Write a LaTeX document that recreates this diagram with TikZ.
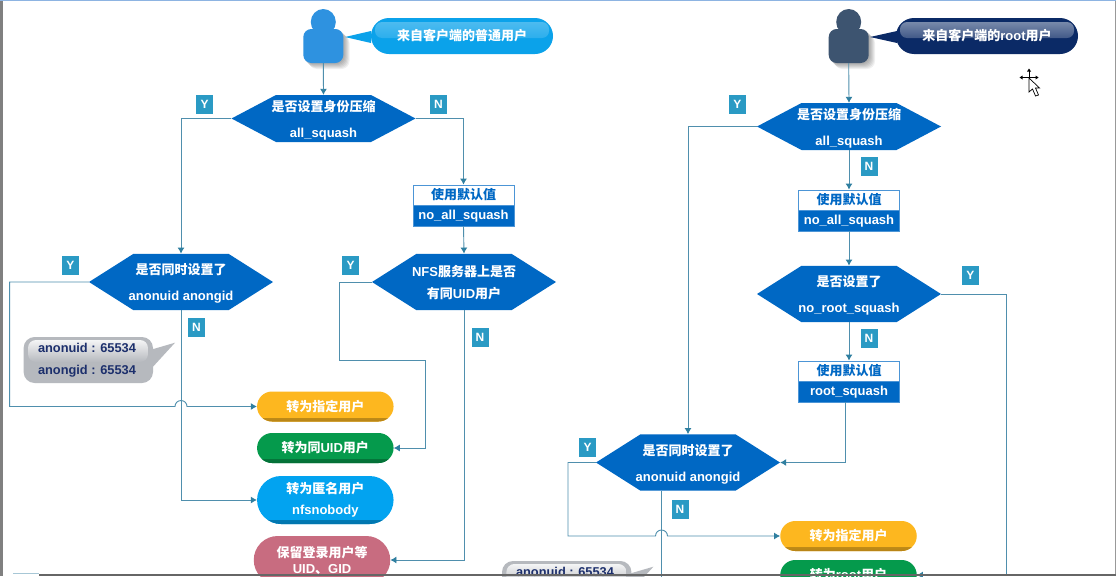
\documentclass[tikz,border=0pt]{standalone}
\usepackage{fontspec}
\setmainfont{Liberation Sans}
\newfontfamily\cjk{Noto Sans CJK SC}
\usetikzlibrary{arrows.meta,positioning,shapes.misc}
\definecolor{flowline}{HTML}{4F8FAD}
\definecolor{flowtip}{HTML}{2F7FA0}
\definecolor{hexblue}{HTML}{0068C4}
\definecolor{tagteal}{HTML}{2A9AC4}
\definecolor{usrlight}{HTML}{2E92E0}
\definecolor{usrdark}{HTML}{3D5470}
\definecolor{tiplight}{HTML}{0BA2EA}
\definecolor{tipdark}{HTML}{0B2A66}
\definecolor{tipgrey}{HTML}{B6B9BE}
\definecolor{textnavy}{HTML}{1C2F6C}
\definecolor{pillorange}{HTML}{FDB71F}
\definecolor{pillgreen}{HTML}{059A4C}
\definecolor{pillblue}{HTML}{02A3F0}
\definecolor{pillpink}{HTML}{C86C80}
\definecolor{frametop}{HTML}{8DB4E2}
\newcommand{\zh}[1]{{\cjk #1}}
\tikzset{
  flow/.style={flowline,line width=0.9pt,-{Latex[length=6pt,width=7pt,color=flowtip]}},
  plainflow/.style={flowline,line width=0.9pt},
  hexsmall/.style={text=white,align=center,inner sep=0pt,minimum width=184pt,minimum height=47pt,
    text depth=-1pt,font=\bfseries\fontsize{13}{26}\selectfont},
  hexlarge/.style={hexsmall,minimum height=56.5pt},
  tagbox/.style={fill=tagteal,text=white,inner sep=0pt,minimum width=17pt,minimum height=19pt,
    font=\bfseries\fontsize{12}{12}\selectfont},
  deftop/.style={draw=hexblue!70,fill=white,text=hexblue,inner sep=0pt,minimum width=101pt,minimum height=20.5pt,
    font=\bfseries\fontsize{13}{13}\selectfont},
  defbot/.style={draw=hexblue!70,fill=hexblue,text=white,inner sep=0pt,minimum width=101pt,minimum height=20.5pt,
    font=\bfseries\fontsize{13}{13}\selectfont},
  pillbox/.style={rounded rectangle,fill=#1,text=white,align=center,inner sep=0pt,minimum width=136.5pt,
    font=\bfseries\fontsize{13}{21}\selectfont,
    path picture={\shade[top color=#1,bottom color=#1!72!black]
      (path picture bounding box.south west) rectangle ([yshift=3.5pt]path picture bounding box.south east);}},
  usrbody/.style={rounded corners=8pt,inner sep=0pt,minimum width=40pt,minimum height=34pt},
  tipbox/.style={rounded rectangle,text=white,inner sep=0pt,minimum width=182pt,minimum height=36pt,
    font=\bfseries\fontsize{13}{13}\selectfont},
  tipgloss/.style 2 args={path picture={\shade[top color=#1,bottom color=#2,rounded corners=7pt]
      ([shift={(4pt,-4pt)}]path picture bounding box.north west) rectangle
      ([shift={(-4pt,-20pt)}]path picture bounding box.north east);}},
  greytext/.style={text=textnavy,inner sep=0pt,font=\bfseries\fontsize{12.8}{13}\selectfont}
}
\begin{document}
\begin{tikzpicture}[x=1pt,y=-1pt]
  \useasboundingbox (0,0) rectangle (1116,576);
  \clip (0,0) rectangle (1116,576);
  \fill[white] (0,0) rectangle (1116,576);

  % The two users and their speech tips
  \foreach \o in {1,...,6} {
    \fill[black,opacity=0.06,rounded corners=8pt] (303+\o,29+\o) rectangle (343.5+\o,63+\o);
    \fill[black,opacity=0.06,rounded corners=8pt] (828.5+\o,29+\o) rectangle (869+\o,63+\o);
  }
  \fill[usrlight] (323.3,22) ellipse (12.5 and 13);
  \node[usrbody,fill=usrlight] (usra) at (323.3,46) {};
  \fill[usrdark] (848.7,22) ellipse (12.5 and 13);
  \node[usrbody,fill=usrdark] (usrb) at (848.7,46) {};

  \fill[tiplight] (371,31) -- (345,37) -- (371,43) -- cycle;
  \node[tipbox,fill=tiplight,tipgloss={white!30!tiplight}{tiplight}] (tipa) at (462,36) {\zh{来自客户端的普通用户}};
  \fill[tipdark] (897,31) -- (870,37) -- (897,43) -- cycle;
  \node[tipbox,fill=tipdark,tipgloss={white!50!tipdark}{tipdark}] (tipb) at (987,36) {\zh{来自客户端的}root\zh{用户}};

  % Hexagons behind the question texts
  \foreach \cx/\cy/\hh in {323.5/118.5/23.5, 181/282/28.2, 464/282/28.2,
                           849/126.5/23.5, 849/294/28.2, 688/462.5/28.2} {
    \fill[hexblue] (\cx-92,\cy) -- (\cx-47.5,\cy-\hh) -- (\cx+47.5,\cy-\hh) -- (\cx+92,\cy)
      -- (\cx+47.5,\cy+\hh) -- (\cx-47.5,\cy+\hh) -- cycle;
  }

  % Left flow
  \node[hexsmall] (hexa) at (323.5,118.5) {\zh{是否设置身份压缩}\\all\_squash};
  \node[hexlarge] (hexb) at (181,282) {\zh{是否同时设置了}\\anonuid anongid};
  \node[hexlarge,font=\bfseries\fontsize{13}{22}\selectfont] (hexc) at (464,282) {NFS\zh{服务器上是否}\\\zh{有同}UID\zh{用户}};
  \node[deftop] (defa) at (463.5,195) {\zh{使用默认值}};
  \node[defbot,below=0pt of defa] (defb) {no\_all\_squash};
  \node[pillbox=pillorange,minimum height=30pt] (pilla) at (325.3,406.5) {\zh{转为指定用户}};
  \node[pillbox=pillgreen,minimum height=30pt] (pillb) at (325.3,448) {\zh{转为同}UID\zh{用户}};
  \node[pillbox=pillblue,minimum height=48pt] (pillc) at (325.3,500) {\zh{转为匿名用户}\\nfsnobody};
  \node[pillbox=pillpink,minimum height=48pt,font=\bfseries\fontsize{13}{16}\selectfont] (pilld) at (322,560) {\zh{保留登录用户等}\\UID\zh{、}GID};

  \draw[flow] (usra.south) -- (hexa.north);
  \draw[flow] (hexa.west) -| (hexb.north);
  \draw[flow] (hexa.east) -| (defa.north);
  \draw[flow] (defb.south) -- (hexc.north);
  \coordinate (loopa) at (9.6,406.5);
  \draw[flow] (hexb.west) -| (loopa) -- (175,406.5) arc (180:360:6) -- (pilla.west);
  \draw[flow] (hexb.south) |- (pillc.west);
  \coordinate (loopb) at (339.3,360);
  \coordinate (loopc) at (425.7,360);
  \draw[flow] (hexc.west) -| (loopb) -- (loopc) |- (pillb.east);
  \draw[flow] (hexc.south) |- (pilld.east);

  \node[tagbox] (ya) at (204.5,104.5) {Y};
  \node[tagbox] (na) at (438.5,104.5) {N};
  \node[tagbox] (yb) at (70.5,265.5) {Y};
  \node[tagbox] (nb) at (196.5,327.5) {N};
  \node[tagbox] (yc) at (350.5,265.5) {Y};
  \node[tagbox] (nc) at (480,337) {N};

  % Right flow
  \node[hexsmall] (hexd) at (849,126.5) {\zh{是否设置身份压缩}\\all\_squash};
  \node[hexlarge] (hexe) at (849,294) {\zh{是否设置了}\\no\_root\_squash};
  \node[hexlarge] (hexf) at (688,462.5) {\zh{是否同时设置了}\\anonuid anongid};
  \node[deftop] (defc) at (849,200) {\zh{使用默认值}};
  \node[defbot,below=0pt of defc] (defd) {no\_all\_squash};
  \node[deftop] (defe) at (849,371) {\zh{使用默认值}};
  \node[defbot,below=0pt of defe] (deff) {root\_squash};
  \node[pillbox=pillorange,minimum height=30pt] (pille) at (848.5,536) {\zh{转为指定用户}};
  \node[pillbox=pillgreen,minimum height=30pt] (pillf) at (848.5,575) {\zh{转为}root\zh{用户}};

  \draw[flow] (usrb.south) -- (hexd.north);
  \draw[flow] (hexd.south) -- (defc.north);
  \draw[flow] (defd.south) -- (hexe.north);
  \draw[flow] (hexe.south) -- (defe.north);
  \draw[flow] (hexd.west) -| (hexf.north);
  \draw[flow] ([xshift=-3.7pt]deff.south) |- (hexf.east);
  \coordinate (loopd) at (568,536);
  \draw[flow] (hexf.west) -| (loopd) -- (655.5,536) arc (180:360:6) -- (pille.west);
  \coordinate (exita) at (661.5,580);
  \draw[plainflow] ([xshift=-26.5pt]hexf.south) -- (exita);
  \coordinate (loope) at (1006,575);
  \draw[flow] (hexe.east) -| (loope) -- (pillf.east);

  \node[tagbox] (yd) at (737.3,104.5) {Y};
  \node[tagbox] (nd) at (869,166.5) {N};
  \node[tagbox] (ye) at (970.3,275.5) {Y};
  \node[tagbox] (ne) at (869,338) {N};
  \node[tagbox] (yf) at (587.5,447.5) {Y};
  \node[tagbox] (nf) at (680,509.5) {N};

  % Grey speech tips
  \foreach \dx/\dy in {0/0,478.4/224} {
    \begin{scope}[shift={(\dx,\dy)}]
      \fill[tipgrey] (150,350) -- (175,342.7) -- (150,370) -- cycle;
      \fill[tipgrey,rounded corners=11pt] (23.6,337) rectangle (153,383);
      \shade[top color=white!85!tipgrey,bottom color=tipgrey,rounded corners=8pt] (28,340) rectangle (148,362);
    \end{scope}
  }
  \node[greytext] (gra) at (87,348) {anonuid : 65534};
  \node[greytext] (grb) at (87,371) {anongid : 65534};
  \node[greytext] (grc) at (565,571.5) {anonuid : 65534};

  % Mouse pointer
  \draw[black,line width=0.8pt] (1021,77.5) -- (1037,77.5);
  \draw[black,line width=0.8pt] (1029,70) -- (1029,85);
  \fill[black] (1019.5,77.5) -- (1022.5,75.5) -- (1022.5,79.5) -- cycle;
  \fill[black] (1038.5,77.5) -- (1035.5,75.5) -- (1035.5,79.5) -- cycle;
  \fill[black] (1029,68.5) -- (1027,71.5) -- (1031,71.5) -- cycle;
  \draw[black,fill=white,line width=0.7pt] (1029,78) -- (1029,92) -- (1032.5,89) -- (1035.5,96) -- (1038.5,95) -- (1035.5,88) -- (1039.5,88) -- cycle;

  % Window frame
  \fill[black!50] (0,0) rectangle (2.5,576);
  \fill[black!40] (1114.5,0) rectangle (1116,576);
  \fill[frametop] (0,0) rectangle (1116,1);
  \fill[flowline!50] (13,572.5) rectangle (38.5,573.5);
  \fill[black!60] (38.5,574) rectangle (1116,576);
\end{tikzpicture}
\end{document}
